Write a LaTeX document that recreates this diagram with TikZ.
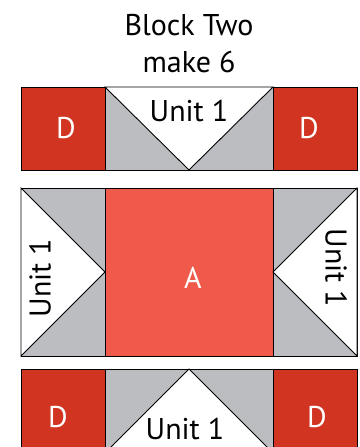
\documentclass[tikz,border=0pt]{standalone}
\usepackage{fontspec}
\setmainfont{PT Sans}
\usepackage{tikz}
\definecolor{patchred}{HTML}{D13522}
\definecolor{patchsalmon}{HTML}{F05A4A}
\definecolor{patchgray}{HTML}{BCBDC0}
\tikzset{
  edge/.style={line width=0.9pt, draw=black},
  lbl/.style={font=\fontsize{30}{32}\selectfont, inner sep=0pt},
  whitelbl/.style={lbl, text=white}
}

\begin{document}
\begin{tikzpicture}[x=1pt, y=-1pt]
			%%%%% START %%%%%
			\useasboundingbox (0, 0) rectangle (359, 447);
			
			\node[lbl, anchor=base] (title) at (189, 35) {Block Two};
			\node[lbl, anchor=base] (make) at (189, 72) {make 6};
			
			% top row
			\draw[edge, fill=patchred] (21, 87) rectangle (105, 170);
			\draw[edge, fill=patchgray] (105, 87) rectangle (273, 170);
			\draw[edge, fill=white] (105, 87) -- (273, 87) -- (189, 170) -- cycle;
			\draw[edge, fill=patchred] (273, 87) rectangle (357, 170);
			\node[whitelbl] (dtl) at (66, 128) {D};
			\node[lbl] (unittop) at (189, 111) {Unit 1};
			\node[whitelbl] (dtr) at (309, 128) {D};
			
			% middle row
			\draw[edge, fill=patchgray] (21, 188) rectangle (105, 356);
			\draw[edge, fill=white] (21, 188) -- (105, 272) -- (21, 356) -- cycle;
			\draw[edge, fill=patchsalmon] (105, 188) rectangle (273, 356);
			\draw[edge, fill=patchgray] (273, 188) rectangle (357, 356);
			\draw[edge, fill=white] (357, 188) -- (273, 272) -- (357, 356) -- cycle;
			\node[lbl, rotate=90] (unitleft) at (40, 278) {Unit 1};
			\node[whitelbl] (a) at (193, 278) {A};
			\node[lbl, rotate=-90] (unitright) at (336, 268) {Unit 1};
			
			% bottom row
			\draw[edge, fill=patchred] (21, 369) rectangle (105, 453);
			\draw[edge, fill=patchgray] (105, 369) rectangle (273, 453);
			\draw[edge, fill=white] (105, 453) -- (189, 369) -- (273, 453) -- cycle;
			\draw[edge, fill=patchred] (273, 369) rectangle (357, 453);
			\node[whitelbl] (dbl) at (58, 417) {D};
			\node[lbl] (unitbot) at (185, 429) {Unit 1};
			\node[whitelbl] (dbr) at (317, 417) {D};
			
			%%%%% END %%%%%
		\end{tikzpicture}
\end{document}
